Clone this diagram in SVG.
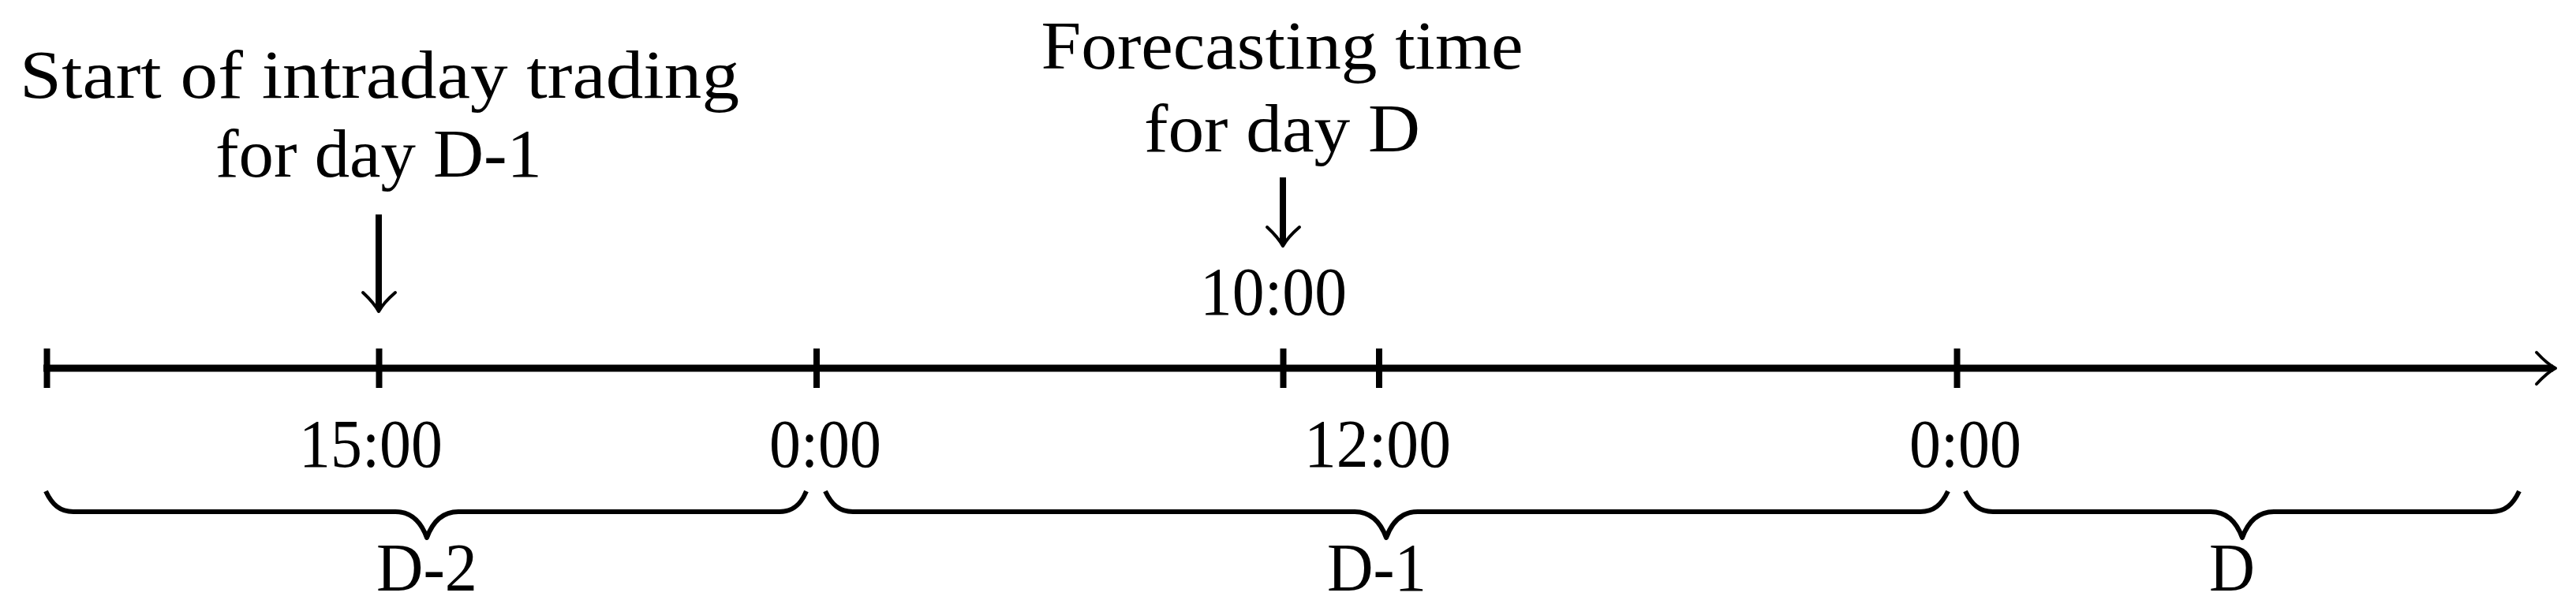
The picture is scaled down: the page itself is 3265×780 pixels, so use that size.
<svg xmlns="http://www.w3.org/2000/svg" width="3265" height="780" viewBox="0 0 3265 780">
<style>
text { font-family: "Liberation Serif", "Times New Roman", serif; font-size: 86px; fill: #000; text-anchor: middle; }
.axis { stroke: #000; stroke-width: 9; fill: none; }
.tick { stroke: #000; stroke-width: 8; fill: none; }
.shaft { stroke: #000; stroke-width: 8; fill: none; }
.head { stroke: #000; stroke-width: 4; fill: none; stroke-linecap: round; stroke-linejoin: round; }
.brace { stroke: #000; stroke-width: 6; fill: none; stroke-linejoin: round; }
</style>
<rect width="3265" height="780" fill="#fff"/>
<g id="connectors">
  <line class="axis" x1="55" y1="467" x2="3236" y2="467"/>
  <path class="head" d="M3215,447 Q3229,462 3239,467 Q3229,472 3215,487"/>
  <line class="tick" x1="59.5" y1="442" x2="59.5" y2="492"/>
  <line class="tick" x1="480.5" y1="442" x2="480.5" y2="492"/>
  <line class="tick" x1="1035" y1="442" x2="1035" y2="492"/>
  <line class="tick" x1="1626.5" y1="442" x2="1626.5" y2="492"/>
  <line class="tick" x1="1748" y1="442" x2="1748" y2="492"/>
  <line class="tick" x1="2480.5" y1="442" x2="2480.5" y2="492"/>
  <line class="shaft" x1="480" y1="272" x2="480" y2="392"/>
  <path class="head" d="M460,371 Q474,384 480,395 Q486,384 501,371"/>
  <line class="shaft" x1="1626" y1="225" x2="1626" y2="309"/>
  <path class="head" d="M1606,288 Q1620,301 1626,312 Q1632,301 1647,288"/>
</g>
<g id="brace-d2">
  <path class="brace" d="M58,623 C66,640 76,649 93,649 L501,649 C519,649 533,660 541,682 C549,660 563,649 581,649 L988,649 C1005,649 1015,640 1022,623"/>
  <text x="541" y="749" textLength="128" lengthAdjust="spacingAndGlyphs">D-2</text>
</g>
<g id="brace-d1">
  <path class="brace" d="M1046,623 C1054,640 1064,649 1081,649 L1717,649 C1735,649 1749,660 1757,682 C1765,660 1779,649 1797,649 L2434,649 C2451,649 2461,640 2469,623"/>
  <text x="1745" y="749" textLength="126" lengthAdjust="spacingAndGlyphs">D-1</text>
</g>
<g id="brace-d">
  <path class="brace" d="M2491,623 C2499,640 2509,649 2526,649 L2802,649 C2820,649 2834,660 2842,682 C2850,660 2864,649 2882,649 L3158,649 C3175,649 3185,640 3193,623"/>
  <text x="2829" y="749" textLength="58" lengthAdjust="spacingAndGlyphs">D</text>
</g>
<g id="label-start">
  <text x="481" y="124" textLength="912" lengthAdjust="spacingAndGlyphs">Start of intraday trading</text>
  <text x="480" y="224" textLength="414" lengthAdjust="spacingAndGlyphs">for day D-1</text>
</g>
<g id="label-forecast">
  <text x="1625" y="87" textLength="611" lengthAdjust="spacingAndGlyphs">Forecasting time</text>
  <text x="1625" y="192" textLength="350" lengthAdjust="spacingAndGlyphs">for day D</text>
  <text x="1614" y="399" textLength="186" lengthAdjust="spacingAndGlyphs">10:00</text>
</g>
<g id="tick-labels">
  <text x="470" y="592" textLength="182" lengthAdjust="spacingAndGlyphs">15:00</text>
  <text x="1046" y="592" textLength="142" lengthAdjust="spacingAndGlyphs">0:00</text>
  <text x="1746" y="592" textLength="186" lengthAdjust="spacingAndGlyphs">12:00</text>
  <text x="2491" y="592" textLength="142" lengthAdjust="spacingAndGlyphs">0:00</text>
</g>
</svg>
